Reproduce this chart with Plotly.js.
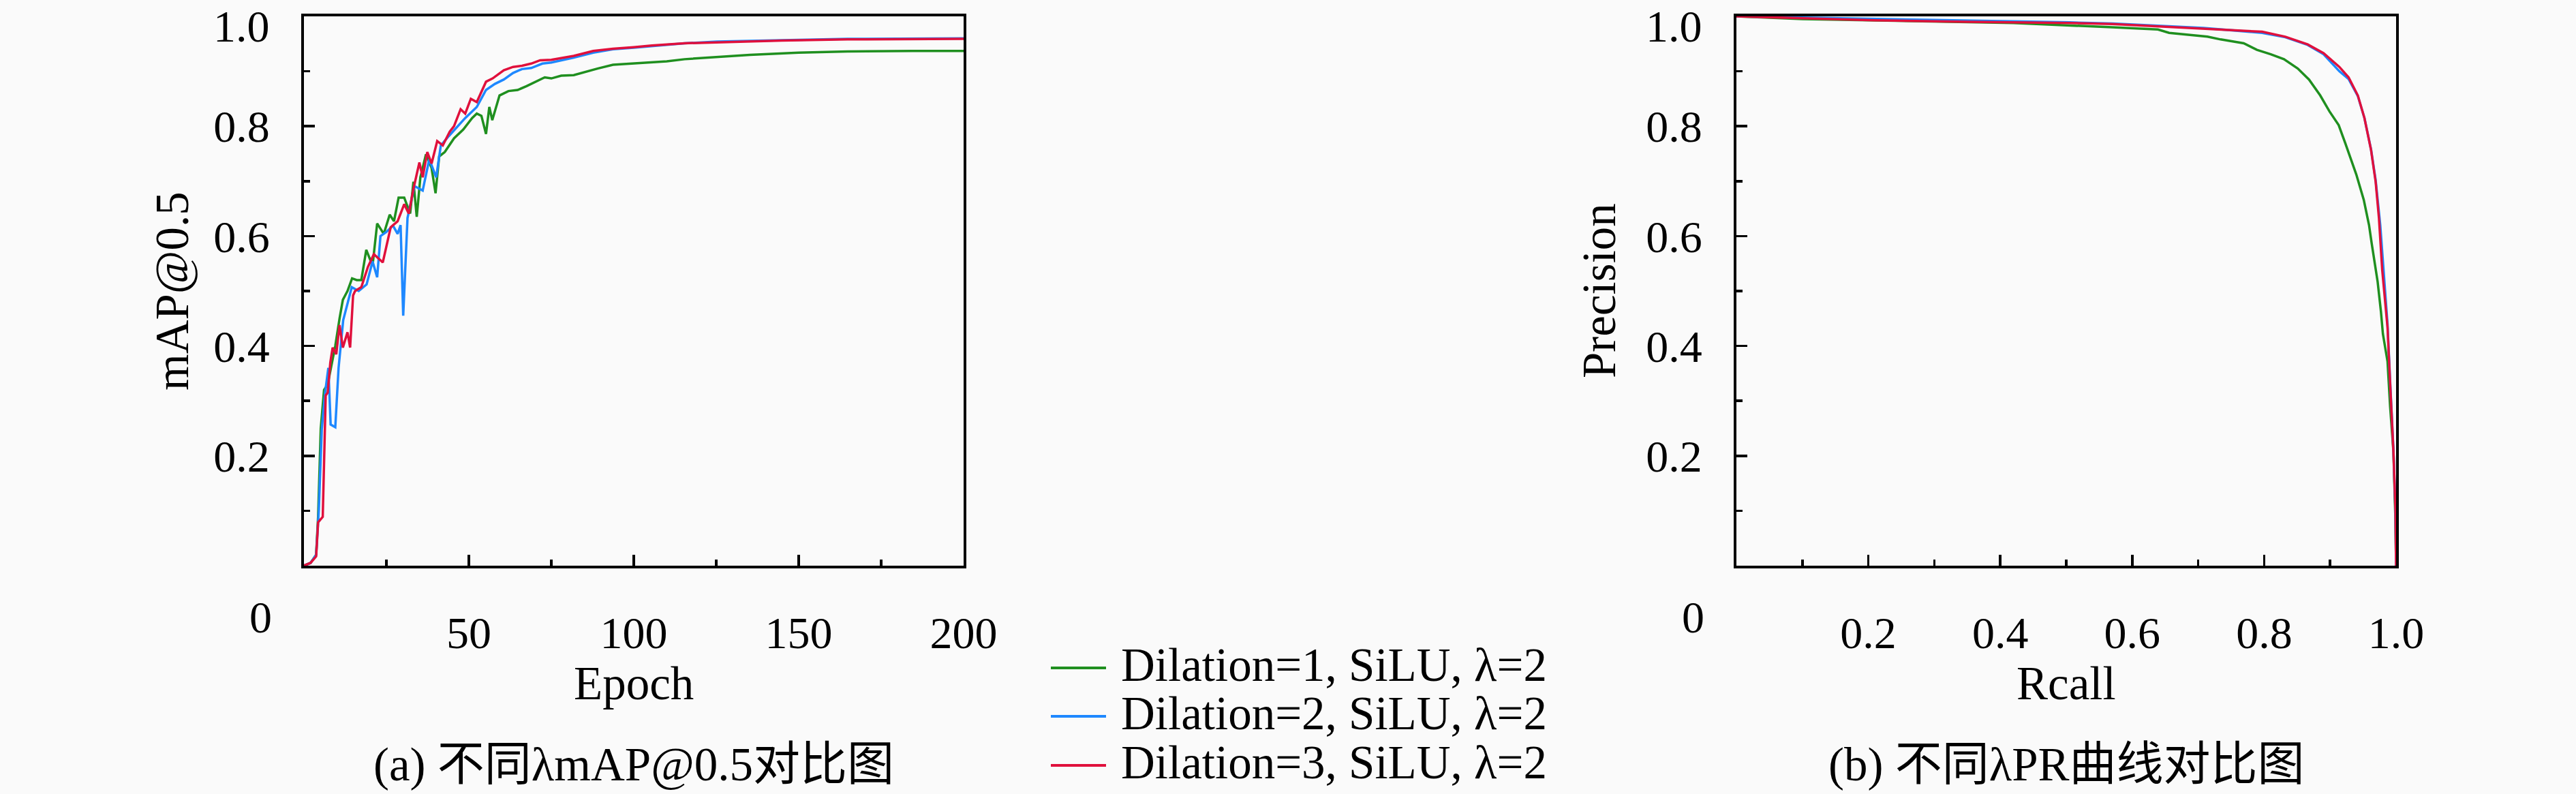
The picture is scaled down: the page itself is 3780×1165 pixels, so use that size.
<!DOCTYPE html>
<html>
<head>
<meta charset="utf-8">
<script src="https://cdn.plot.ly/plotly-3.0.1.min.js"></script>
<style>
  html, body { margin: 0; padding: 0; background: #fafafa; }
  #chart { width: 3780px; height: 1165px; }
</style>
</head>
<body>
<div id="chart"></div>
<script>
// ---- data ----
const seriesNames = ['Dilation=1, SiLU, λ=2', 'Dilation=2, SiLU, λ=2', 'Dilation=3, SiLU, λ=2'];
const seriesColors = ['#1f8f1f', '#1e88ff', '#e0103c'];

// (a) mAP@0.5 vs epoch
const epochD1 = [0, 2, 3.7, 4.3, 5.1, 6.1, 7.2, 8.2, 9.5, 10.8, 11.8, 13.2, 14.6, 16, 17.4, 18.9, 20.8, 22.2, 24.2, 26, 27.3, 28.7, 30.4, 32.2, 33.2, 34.2, 35.3, 37, 38.7, 39.9, 41, 42.7, 45.5, 48.3, 51, 52.4, 53.8, 55.2, 56.2, 57.1, 59.3, 62, 64.8, 67.5, 70.3, 73, 75, 78, 81.8, 85.8, 89, 93.7, 100, 105.5, 110, 115.4, 125.3, 135.2, 150, 164.8, 184.6, 200];
const mapD1 = [0, 0.005, 0.02, 0.09, 0.25, 0.32, 0.33, 0.36, 0.40, 0.45, 0.484, 0.50, 0.523, 0.52, 0.52, 0.575, 0.546, 0.623, 0.604, 0.639, 0.627, 0.670, 0.670, 0.641, 0.699, 0.635, 0.707, 0.749, 0.724, 0.678, 0.745, 0.753, 0.778, 0.794, 0.815, 0.823, 0.819, 0.786, 0.835, 0.811, 0.856, 0.864, 0.866, 0.873, 0.881, 0.889, 0.887, 0.892, 0.893, 0.900, 0.905, 0.912, 0.914, 0.916, 0.918, 0.922, 0.926, 0.930, 0.934, 0.936, 0.937, 0.937];

const epochD2 = [0, 2, 3.7, 4.5, 5.4, 6.4, 7.4, 8.1, 9.5, 10.5, 11.9, 13.6, 14.5, 16.6, 19, 20.8, 22.2, 23.2, 24.9, 27, 28.4, 29.3, 30.1, 31.4, 33.5, 36, 38, 40.1, 41.5, 43.9, 46.3, 48.9, 52.4, 55.2, 57.9, 60.6, 63.4, 66.1, 68.9, 72.3, 75, 81.8, 87.7, 93.7, 100, 105.5, 115.4, 125.3, 145, 164.8, 200];
const mapD2 = [0, 0.005, 0.02, 0.10, 0.248, 0.314, 0.36, 0.257, 0.252, 0.36, 0.447, 0.488, 0.507, 0.50, 0.512, 0.554, 0.525, 0.60, 0.607, 0.619, 0.604, 0.62, 0.455, 0.633, 0.691, 0.683, 0.74, 0.707, 0.765, 0.782, 0.798, 0.815, 0.835, 0.866, 0.877, 0.885, 0.897, 0.904, 0.906, 0.914, 0.916, 0.925, 0.934, 0.940, 0.943, 0.946, 0.951, 0.954, 0.957, 0.959, 0.960];

const epochD3 = [0, 2, 3.7, 4.3, 5.7, 6.6, 7.2, 8, 8.7, 9.8, 10.8, 11.8, 13.2, 14, 14.9, 15.5, 17.4, 19.4, 21.2, 23.9, 26.3, 28.4, 30.4, 31.8, 33.2, 35, 36, 37.4, 38.7, 40.4, 42.1, 44.2, 45.5, 47.5, 48.9, 50.6, 52.4, 55.2, 57.2, 60.6, 63.4, 66.1, 68.9, 71.6, 75, 81.8, 87.7, 93.7, 100, 105.5, 115.4, 125.3, 145, 164.8, 200];
const mapD3 = [0, 0.005, 0.017, 0.079, 0.089, 0.31, 0.315, 0.37, 0.397, 0.385, 0.438, 0.397, 0.425, 0.397, 0.492, 0.50, 0.507, 0.544, 0.567, 0.552, 0.616, 0.627, 0.658, 0.641, 0.686, 0.734, 0.707, 0.753, 0.732, 0.773, 0.765, 0.790, 0.80, 0.831, 0.823, 0.850, 0.844, 0.881, 0.887, 0.902, 0.908, 0.910, 0.914, 0.92, 0.921, 0.928, 0.937, 0.941, 0.944, 0.947, 0.951, 0.953, 0.956, 0.958, 0.959];

// (b) precision vs recall
const recallD1 = [0, 0.1, 0.2, 0.3, 0.42, 0.570, 0.639, 0.656, 0.714, 0.734, 0.769, 0.789, 0.810, 0.830, 0.851, 0.868, 0.885, 0.899, 0.913, 0.923, 0.930, 0.940, 0.951, 0.959, 0.963, 0.968, 0.972, 0.977, 0.980, 0.987, 0.991, 0.996, 0.999, 1.0];
const precD1 = [1.0, 0.995, 0.993, 0.991, 0.988, 0.980, 0.976, 0.970, 0.963, 0.958, 0.951, 0.939, 0.931, 0.922, 0.905, 0.885, 0.856, 0.827, 0.802, 0.769, 0.744, 0.711, 0.666, 0.620, 0.587, 0.546, 0.517, 0.463, 0.422, 0.372, 0.289, 0.207, 0.083, 0.0];

const recallD2 = [0, 0.095, 0.209, 0.35, 0.505, 0.570, 0.639, 0.708, 0.797, 0.832, 0.866, 0.890, 0.914, 0.928, 0.942, 0.952, 0.962, 0.969, 0.976, 0.980, 0.987, 0.991, 0.996, 0.999, 1.0];
const precD2 = [1.0, 0.998, 0.996, 0.992, 0.989, 0.987, 0.983, 0.979, 0.970, 0.962, 0.948, 0.931, 0.900, 0.886, 0.855, 0.815, 0.758, 0.702, 0.62, 0.555, 0.44, 0.335, 0.21, 0.10, 0.0];

const recallD3 = [0, 0.095, 0.209, 0.35, 0.505, 0.570, 0.639, 0.708, 0.797, 0.832, 0.866, 0.890, 0.914, 0.928, 0.942, 0.952, 0.962, 0.969, 0.974, 0.979, 0.987, 0.991, 0.996, 0.999, 1.0];
const precD3 = [1.0, 0.997, 0.993, 0.990, 0.988, 0.986, 0.982, 0.978, 0.972, 0.963, 0.949, 0.933, 0.908, 0.889, 0.856, 0.815, 0.757, 0.699, 0.633, 0.538, 0.434, 0.331, 0.207, 0.103, 0.0];

const epochTicks = [50, 100, 150, 200];
const unitTicks = [0.2, 0.4, 0.6, 0.8, 1.0];
const unitTickText = ['0.2', '0.4', '0.6', '0.8', '1.0'];
// top label of the y axes is placed by hand so it stays inside the page
const yTickText = ['0.2', '0.4', '0.6', '0.8', ''];

// ---- page geometry (pixels) ----
const W = 3780, H = 1165;
const FONT = "'Liberation Serif', 'Noto Sans CJK SC', serif";
const px = x => x / W;
const py = y => 1 - y / H;

const frameTop = 24, frameBottom = 830;
const leftFrame = [446, 1414], rightFrame = [2548, 3516];

function axisStyle(extra) {
    return Object.assign({
        showline: true, linecolor: '#000', linewidth: 4, mirror: true,
        ticks: 'inside', ticklen: 16, tickwidth: 3.5, tickcolor: '#000',
        showgrid: false, zeroline: false, fixedrange: true,
        tickfont: { family: FONT, size: 66, color: '#000' }
    }, extra);
}
const minorTicks = dt => ({ ticks: 'inside', ticklen: 9, tickwidth: 3.5, tickcolor: '#000', tick0: 0, dtick: dt });

const epochSets = [[epochD1, mapD1], [epochD2, mapD2], [epochD3, mapD3]];
const prSets = [[recallD1, precD1], [recallD2, precD2], [recallD3, precD3]];

const data = [];
epochSets.forEach((s, i) => data.push({
    x: s[0], y: s[1], xaxis: 'x', yaxis: 'y',
    type: 'scatter', mode: 'lines', name: seriesNames[i],
    line: { color: seriesColors[i], width: 3.5 }
}));
prSets.forEach((s, i) => data.push({
    x: s[0], y: s[1], xaxis: 'x2', yaxis: 'y2',
    type: 'scatter', mode: 'lines', name: seriesNames[i],
    line: { color: seriesColors[i], width: 3.5 }
}));

const yDomain = [py(frameBottom), py(frameTop)];

const annotations = [];
function label(text, x, y, opts) {
    annotations.push(Object.assign({
        text: text, x: px(x), y: py(y), xref: 'paper', yref: 'paper',
        showarrow: false, xanchor: 'center', yanchor: 'middle',
        font: { family: FONT, size: 69, color: '#000' }
    }, opts || {}));
}
const tickFont = { family: FONT, size: 66, color: '#000' };
// shared origin "0" under each plot
label('0', 382, 905, { font: tickFont });
label('0', 2484, 905, { font: tickFont });
// "1.0" at the top of each y axis
label(unitTickText[4], leftFrame[0] - 48, 0, { xanchor: 'right', yanchor: 'top', font: tickFont });
label(unitTickText[4], rightFrame[0] - 48, 0, { xanchor: 'right', yanchor: 'top', font: tickFont });
label('mAP@0.5', 253, 427, { textangle: -90 });
label('Precision', 2347, 427, { textangle: -90 });
label('Epoch', 930, 1003);
label('Rcall', 3032, 1003);
label('(a) 不同λmAP@0.5对比图', 930, 1122);
label('(b) 不同λPR曲线对比图', 3032, 1122);

// hand-placed legend in the middle gap
const legendRows = [980, 1051, 1123];
const shapes = [];
legendRows.forEach((y, i) => {
    shapes.push({
        type: 'line', xref: 'paper', yref: 'paper',
        x0: px(1542), x1: px(1623), y0: py(y), y1: py(y),
        line: { color: seriesColors[i], width: 4 }
    });
    label(seriesNames[i], 1643, y - 4, { xanchor: 'left' });
});

const layout = {
    width: W, height: H,
    margin: { l: 0, r: 0, t: 0, b: 0 },
    paper_bgcolor: '#fafafa', plot_bgcolor: '#fafafa',
    showlegend: false,
    font: { family: FONT, size: 66, color: '#000' },
    xaxis: axisStyle({
        domain: [px(leftFrame[0]), px(leftFrame[1])], range: [0, 200], anchor: 'y',
        tickvals: epochTicks, ticklabelstandoff: 38, minor: minorTicks(25)
    }),
    yaxis: axisStyle({
        domain: yDomain, range: [0, 1], anchor: 'x',
        tickvals: unitTicks, ticktext: yTickText, ticklabelstandoff: 33, minor: minorTicks(0.1)
    }),
    xaxis2: axisStyle({
        domain: [px(rightFrame[0]), px(rightFrame[1])], range: [0, 1], anchor: 'y2',
        tickvals: unitTicks, ticktext: unitTickText, ticklabelstandoff: 38, minor: minorTicks(0.1)
    }),
    yaxis2: axisStyle({
        domain: yDomain, range: [0, 1], anchor: 'x2',
        tickvals: unitTicks, ticktext: yTickText, ticklabelstandoff: 33, minor: minorTicks(0.1)
    }),
    annotations: annotations,
    shapes: shapes
};

Plotly.newPlot('chart', data, layout, { staticPlot: true, displayModeBar: false });
</script>
</body>
</html>
